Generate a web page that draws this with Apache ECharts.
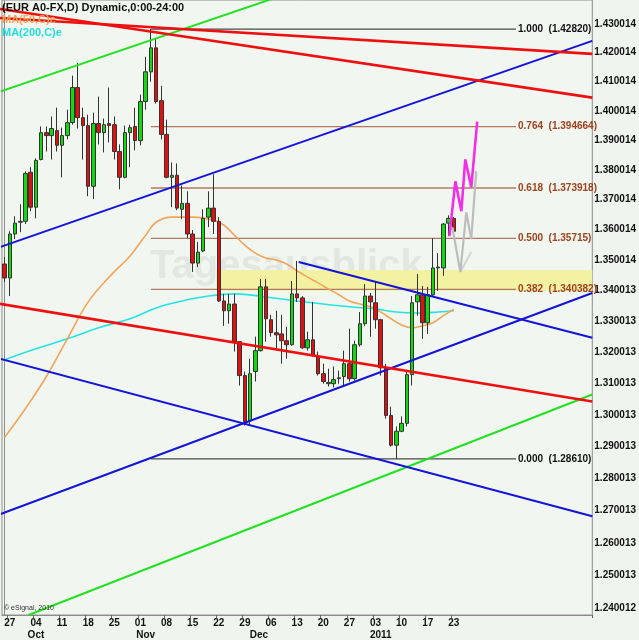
<!DOCTYPE html>
<html><head><meta charset="utf-8">
<script src="https://cdn.jsdelivr.net/npm/echarts@6/dist/echarts.min.js"></script>
<style>html,body{margin:0;padding:0;background:#eff5ee}#c{width:639px;height:640px}</style>
</head><body><div id="c"></div>
<script>
// ---------- data ----------
const firstDay = '2010-09-24';
const slotCount = 113;            // trading-day slots on the x axis (incl. empty future)
const weekLabelIdx = [1,6,11,16,21,26,31,36,41,46,51,56,61,66,71,76,81,86];
const weekLabels = ['27','04','11','18','25','01','08','15','22','29','06','13','20','27','03','10','17','23'];
const monthPos = [6, 27, 48.7, 72];
const monthLabels = ['Oct','Nov','Dec','2011'];
const yTicks = [1.430014,1.420014,1.410014,1.400014,1.390014,1.380014,1.370014,1.360014,1.350014,1.340013,
  1.330013,1.320013,1.310013,1.300013,1.290013,1.280013,1.270013,1.260013,1.250013,1.240012];
const yMin = 1.23806, yMax = 1.43838;

// [open, close, low, high]
const ohlc = [
[1.3487,1.3441,1.3428,1.3510],[1.3441,1.3586,1.3382,1.3595],[1.3586,1.3622,1.3569,1.3645],[1.3625,1.3628,1.3592,1.3685],
[1.3628,1.3788,1.3619,1.3795],[1.3792,1.3675,1.3662,1.3809],[1.3675,1.3832,1.3638,1.3839],[1.3835,1.3926,1.3832,1.3947],
[1.3926,1.3916,1.3862,1.3947],[1.3916,1.3940,1.3835,1.3981],[1.3933,1.3883,1.3862,1.4011],[1.3883,1.3916,1.3775,1.3943],
[1.3916,1.3960,1.3903,1.4004],[1.3960,1.4080,1.3953,1.4121],[1.4080,1.3977,1.3940,1.4165],[1.3977,1.3950,1.3835,1.4011],
[1.3950,1.3745,1.3712,1.3987],[1.3745,1.3957,1.3702,1.3994],[1.3957,1.3926,1.3886,1.4049],[1.3926,1.3953,1.3859,1.3974],
[1.3957,1.3950,1.3893,1.4080],[1.3953,1.3862,1.3835,1.3981],[1.3862,1.3775,1.3735,1.3886],[1.3775,1.3926,1.3772,1.3950],
[1.3926,1.3943,1.3809,1.3953],[1.3947,1.3899,1.3866,1.4011],[1.3899,1.4032,1.3883,1.4056],[1.4032,1.4134,1.4004,1.4186],
[1.4134,1.4217,1.4100,1.4282],[1.4217,1.4032,1.4025,1.4248],[1.4035,1.3920,1.3903,1.4086],[1.3920,1.3775,1.3772,1.3970],
[1.3775,1.3782,1.3675,1.3825],[1.3782,1.3672,1.3665,1.3822],[1.3668,1.3688,1.3635,1.3748],[1.3688,1.3586,1.3572,1.3728],
[1.3586,1.3490,1.3461,1.3599],[1.3490,1.3526,1.3477,1.3559],[1.3530,1.3638,1.3526,1.3668],[1.3642,1.3672,1.3609,1.3728],
[1.3672,1.3628,1.3586,1.3785],[1.3628,1.3366,1.3363,1.3642],[1.3366,1.3334,1.3285,1.3389],[1.3334,1.3356,1.3292,1.3389],
[1.3356,1.3234,1.3202,1.3389],[1.3234,1.3125,1.3093,1.3236],[1.3125,1.2979,1.2966,1.3138],[1.2982,1.3131,1.2970,1.3179],
[1.3138,1.3205,1.3106,1.3250],[1.3205,1.3412,1.3202,1.3438],[1.3412,1.3308,1.3234,1.3438],[1.3305,1.3263,1.3250,1.3321],
[1.3263,1.3256,1.3211,1.3334],[1.3259,1.3237,1.3163,1.3321],[1.3237,1.3224,1.3179,1.3282],[1.3224,1.3389,1.3221,1.3431],
[1.3389,1.3376,1.3363,1.3497],[1.3376,1.3214,1.3211,1.3382],[1.3214,1.3240,1.3205,1.3266],[1.3240,1.3189,1.3186,1.3363],
[1.3186,1.3131,1.3125,1.3202],[1.3131,1.3106,1.3099,1.3163],[1.3099,1.3103,1.3090,1.3147],[1.3099,1.3112,1.3087,1.3154],
[1.3115,1.3118,1.3099,1.3141],[1.3122,1.3163,1.3090,1.3205],[1.3163,1.3115,1.3106,1.3276],[1.3115,1.3224,1.3109,1.3237],
[1.3224,1.3292,1.3218,1.3330],[1.3292,1.3382,1.3285,1.3421],[1.3382,1.3363,1.3250,1.3392],[1.3360,1.3305,1.3276,1.3428],
[1.3305,1.3150,1.3125,1.3308],[1.3150,1.2998,1.2988,1.3163],[1.2998,1.2904,1.2900,1.3026],[1.2904,1.2948,1.2861,1.2963],
[1.2948,1.2973,1.2945,1.2995],[1.2973,1.3128,1.2963,1.3141],[1.3128,1.3360,1.3093,1.3382],[1.3363,1.3386,1.3318,1.3454],
[1.3386,1.3295,1.3243,1.3415],[1.3295,1.3386,1.3259,1.3412],[1.3386,1.3474,1.3382,1.3572],[1.3474,1.3477,1.3399,1.3523],
[1.3474,1.3619,1.3448,1.3622],[1.3622,1.3638,1.3579,1.3648],[1.3638,1.3595,1.3592,1.3642]
];

// moving averages [dayIndex, value]
const ma50 = [[0,1.2929],[4,1.3020],[8,1.3122],[12,1.3243],[16,1.3363],[20,1.3444],[24,1.3513],[27,1.3582],[29,1.3625],
  [32,1.3642],[36,1.3642],[40,1.3632],[42,1.3615],[44,1.3582],[46,1.3549],[48,1.3523],[50,1.3507],[52,1.3500],[54,1.3487],
  [56,1.3464],[58,1.3444],[60,1.3425],[62,1.3405],[64,1.3386],[66,1.3366],[68,1.3356],[70,1.3347],[72,1.3330],[74,1.3308],
  [76,1.3288],[78,1.3279],[80,1.3285],[82,1.3295],[84,1.3318],[86,1.333878]];
const ma200 = [[0,1.3176],[6,1.3211],[12,1.3243],[18,1.3279],[24,1.3308],[29,1.3343],[34,1.3366],[39,1.3382],[44,1.3389],
  [50,1.3379],[56,1.3366],[61,1.3356],[66,1.3347],[71,1.3340],[75,1.3330],[79,1.3327],[83,1.3330],[86,1.3334]];
const lastPrice = 1.35950;
const ma50Last = 1.333878;

// Fibonacci retracement
const fibRange = [28, 97.9];
const fibRatios = ['1.000','0.764','0.618','0.500','0.382','0.000'];
const fibValues = [1.42820, 1.394664, 1.373918, 1.35715, 1.340382, 1.28610];

// highlighted zone [fromIndex, toIndex, top, bottom]
const zoneX = [40.5, 112.5];
const zoneY = [1.3467, 1.3399];

// trend lines: [[dayIndex, price], [dayIndex, price]]
const redLine1 = [[-0.9, 1.43210], [112.5, 1.41962]];
const redLine2 = [[-0.9, 1.43523], [112.5, 1.40453]];
const redLine3 = [[-0.9, 1.33564], [112.5, 1.30422]];
const blueLine1 = [[-0.9, 1.35426], [112.5, 1.42412]];
const blueLine2 = [[-0.9, 1.26884], [112.5, 1.33921]];
const blueLine3 = [[-0.9, 1.31791], [112.5, 1.26821]];
const blueLine4 = [[56.3, 1.34934], [112.5, 1.32465]];
const greenLine1 = [[-0.9, 1.40658], [112.5, 1.47760]];
const greenLine2 = [[4.6, 1.23806], [112.5, 1.30644]];

// projected paths
const projMagenta = [[85.15,1.35789],[86.29,1.37616],[87.43,1.36616],[88.19,1.38353],[89.33,1.37415],[90.47,1.39636]];
const projGray = [[85.72,1.36085],[87.24,1.34607],[88.38,1.36583],[89.33,1.35690],[90.28,1.37950]];
const projGrayTail = [[87.24,1.34607],[89.33,1.35262]];

// ---------- build ----------
const categories = [];
{
  let d = new Date(firstDay + 'T12:00:00Z');
  while (categories.length < slotCount) {
    const wd = d.getUTCDay();
    if (wd !== 0 && wd !== 6) categories.push(d.toISOString().slice(0,10));
    d.setUTCDate(d.getUTCDate() + 1);
  }
}
const weekMap = {}; weekLabelIdx.forEach((i,k)=>weekMap[i]=weekLabels[k]);
const monthMap = {}; monthPos.forEach((p,k)=>monthMap[p]=monthLabels[k]);

const FONT = 'Liberation Sans';
function trend(data, color, width, z) {
  return {type:'line', xAxisIndex:1, data, symbol:'none', silent:true, clip:true, z: z||5,
    lineStyle:{color, width}};
}

const series = [];
// yellow zone
series.push({type:'line', xAxisIndex:1, data:[[zoneX[0], zoneY[0]]], symbol:'none', silent:true, z:1,
  lineStyle:{opacity:0},
  markArea:{silent:true, itemStyle:{color:'#f2f2a2'}, data:[[{coord:[zoneX[0], zoneY[0]]},{coord:[zoneX[1], zoneY[1]]}]]}});
// fib lines
fibValues.forEach((v,k)=>{
  const edge = (k===0 || k===fibValues.length-1);
  series.push({type:'line', xAxisIndex:1, data:[[fibRange[0], v],[fibRange[1], v]], symbol:'none', silent:true, z:2,
    lineStyle:{color: edge ? '#4a4a4a' : '#b07a62', width: 1.3},
    endLabel:{show:true, distance:2, formatter: fibRatios[k] + '  (' + (k===0||k===3||k===5 ? v.toFixed(5) : v.toFixed(6)) + ')',
      color: edge ? '#111' : '#a0401c', fontFamily: FONT, fontSize: 10, fontWeight:'bold'}});
});
// moving averages
series.push({type:'line', xAxisIndex:1, data:ma200, symbol:'none', smooth:0.4, silent:true, z:3, lineStyle:{color:'#26e3e3', width:1.6}});
series.push({type:'line', xAxisIndex:1, data:ma50, symbol:'none', smooth:0.4, silent:true, z:3, lineStyle:{color:'#f2a55a', width:1.6}});
// candles
series.push({type:'candlestick', xAxisIndex:0, data: ohlc, barWidth:4, z:4, silent:true,
  itemStyle:{color:'#12d812', color0:'#e01010', borderColor:'#333', borderColor0:'#333', borderWidth:1},
  markLine:{silent:true, symbol:['none','none'], animation:false, z:10,
    data:[
      {yAxis: ma50Last, lineStyle:{opacity:0}, label:{show:true, position:'end', distance:1, formatter: ma50Last.toFixed(6),
        backgroundColor:'#f2a55a', color:'#fff', fontFamily:FONT, fontSize:10, fontWeight:'bold', padding:[2,1,2,2]}},
      {yAxis: lastPrice, lineStyle:{opacity:0}, label:{show:true, position:'end', distance:1, formatter: lastPrice.toFixed(5),
        backgroundColor:'#e00000', color:'#fff', fontFamily:FONT, fontSize:10, fontWeight:'bold', padding:[2,4,2,3]}}
    ]}});
// trend lines
series.push(trend(greenLine1, '#22e022', 2));
series.push(trend(greenLine2, '#22e022', 2));
series.push(trend(blueLine1, '#1414d8', 2));
series.push(trend(blueLine2, '#1414d8', 2));
series.push(trend(blueLine3, '#1414d8', 2));
series.push(trend(blueLine4, '#1414d8', 2));
series.push(trend(redLine3, '#ee1010', 2.6));
series.push(trend(redLine1, '#ee1010', 2.6));
series.push(trend(redLine2, '#ee1010', 2.6));
// projections
series.push(trend(projGrayTail, '#d4d4d4', 2, 6));
series.push(trend(projGray, '#bdbdbd', 2.2, 6));
series.push(trend(projMagenta, '#f22ee6', 2.6, 7));

const option = {
  animation:false,
  backgroundColor:'#eff5ee',
  grid:{left:2, right:42, top:0, bottom:23, show:true, borderColor:'#8c8c8c', borderWidth:1, backgroundColor:'#f1f7f0'},
  xAxis:[
    {type:'category', data:categories, boundaryGap:true, position:'bottom',
     axisLine:{show:true, lineStyle:{color:'#8c8c8c'}},
     axisTick:{show:true, interval:(i)=>weekMap[i]!==undefined, length:3, lineStyle:{color:'#666'}},
     axisLabel:{interval:(i)=>weekMap[i]!==undefined, formatter:(v,i)=>weekMap[i]||'', margin:3,
       color:'#111', fontFamily:FONT, fontSize:10, fontWeight:'bold'},
     splitLine:{show:false}},
    {type:'value', min:-0.5, max:slotCount-0.5, position:'bottom',
     axisLine:{show:false}, axisTick:{show:false}, splitLine:{show:false},
     axisLabel:{show:true, customValues:monthPos, formatter:(v)=>monthMap[v]||'', margin:15,
       color:'#111', fontFamily:FONT, fontSize:10, fontWeight:'bold'}}
  ],
  yAxis:[{type:'log', logBase:10, min:yMin, max:yMax, position:'right',
    axisLine:{show:true, lineStyle:{color:'#8c8c8c'}}, axisTick:{show:false}, splitLine:{show:false},
    axisLabel:{customValues:yTicks, formatter:(v)=>Number(v).toFixed(6), margin:2, color:'#111',
      fontFamily:FONT, fontSize:10, fontWeight:'bold'}}],
  graphic:[
    {type:'text', left:150, top:247, z:0, silent:true, style:{text:'Tagesausblick', font:'bold 40px "Liberation Sans"', fill:'rgba(150,150,150,0.16)'}},
    {type:'text', left:2, top:2, z:50, style:{text:'(EUR A0-FX,D) Dynamic,0:00-24:00', font:'bold 11px "Liberation Sans"', fill:'#111'}},
    {type:'text', left:2, top:14, z:50, style:{text:'MA(50,C)e', font:'bold 11px "Liberation Sans"', fill:'#f2a55a'}},
    {type:'text', left:2, top:27, z:50, style:{text:'MA(200,C)e', font:'bold 11px "Liberation Sans"', fill:'#22dede'}},
    {type:'text', left:4, top:605, z:50, style:{text:'© eSignal, 2010', font:'7px "Liberation Sans"', fill:'#333'}}
  ],
  series
};
const chart = echarts.init(document.getElementById('c'), null, {renderer:'canvas'});
chart.setOption(option);
</script>
</body></html>
